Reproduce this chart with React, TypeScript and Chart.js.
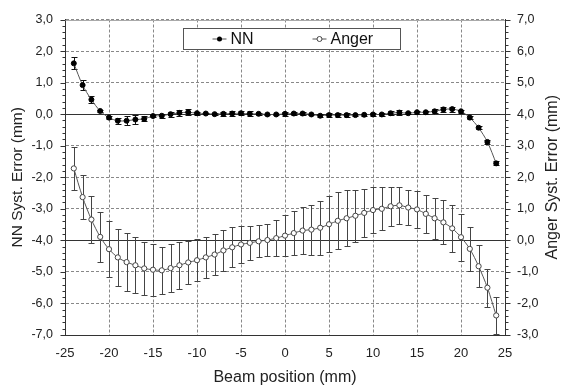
import React, { useEffect, useRef } from 'react';
import { Chart, registerables } from 'chart.js';

Chart.register(...registerables);

const positions = [-24, -23, -22, -21, -20, -19, -18, -17, -16, -15, -14, -13, -12, -11, -10, -9, -8, -7, -6, -5, -4, -3, -2, -1, 0, 1, 2, 3, 4, 5, 6, 7, 8, 9, 10, 11, 12, 13, 14, 15, 16, 17, 18, 19, 20, 21, 22, 23, 24];

const nnValues = [1.61, 0.92, 0.46, 0.10, -0.11, -0.21, -0.21, -0.17, -0.15, -0.06, -0.05, 0.00, 0.04, 0.06, 0.03, 0.02, 0.00, 0.01, 0.02, 0.03, 0.01, 0.01, -0.01, -0.01, 0.01, 0.02, 0.02, -0.01, -0.05, -0.03, -0.03, -0.03, -0.03, -0.02, -0.01, -0.01, 0.03, 0.05, 0.03, 0.06, 0.06, 0.09, 0.15, 0.16, 0.09, -0.11, -0.43, -0.88, -1.56];

const nnErrors = [0.19, 0.17, 0.10, 0.04, 0.05, 0.10, 0.14, 0.13, 0.08, 0.04, 0.06, 0.08, 0.10, 0.10, 0.05, 0.03, 0.04, 0.07, 0.07, 0.07, 0.08, 0.04, 0.03, 0.03, 0.07, 0.04, 0.04, 0.03, 0.04, 0.06, 0.07, 0.06, 0.04, 0.04, 0.05, 0.05, 0.07, 0.07, 0.04, 0.05, 0.04, 0.06, 0.09, 0.08, 0.05, 0.04, 0.05, 0.06, 0.06];

const angerValues = [2.28, 1.37, 0.66, 0.11, -0.28, -0.54, -0.69, -0.79, -0.89, -0.93, -0.95, -0.88, -0.79, -0.70, -0.63, -0.54, -0.45, -0.32, -0.22, -0.13, -0.08, -0.03, 0.01, 0.07, 0.15, 0.23, 0.31, 0.34, 0.40, 0.51, 0.62, 0.70, 0.78, 0.87, 0.96, 1.00, 1.08, 1.11, 1.04, 0.98, 0.84, 0.70, 0.57, 0.38, 0.10, -0.27, -0.82, -1.50, -2.38];

const angerErrors = [0.68, 0.69, 0.75, 0.80, 0.89, 0.91, 0.92, 0.89, 0.83, 0.82, 0.75, 0.75, 0.74, 0.69, 0.66, 0.64, 0.64, 0.64, 0.63, 0.58, 0.53, 0.51, 0.52, 0.57, 0.65, 0.69, 0.74, 0.79, 0.86, 0.89, 0.90, 0.89, 0.83, 0.77, 0.72, 0.68, 0.62, 0.58, 0.55, 0.58, 0.60, 0.65, 0.70, 0.74, 0.74, 0.70, 0.66, 0.60, 0.60];

const seriesNames = ['NN', 'Anger'];
const xTitle = 'Beam position (mm)';
const yTitle = 'NN Syst. Error (mm)';
const y2Title = 'Anger Syst. Error (mm)';
const xRange = [-25, 25];
const yRange = [-7, 3];
const y2Range = [-3, 7];

const FONT = "'Liberation Sans', Arial, sans-serif";

const fmt = (v: number) => Number(v).toFixed(1).replace('.', ',');

const errorBarPlugin = {
  id: 'errorBars',
  beforeDatasetsDraw(chart: any) {
    const ctx = chart.ctx;
    const xScale = chart.scales.x;
    chart.data.datasets.forEach((ds: any, i: number) => {
      const meta = chart.getDatasetMeta(i);
      const yScale = chart.scales[meta.yAxisID];
      ctx.save();
      ctx.strokeStyle = ds.errorColor;
      ctx.lineWidth = 1;
      ds.data.forEach((pt: any, j: number) => {
        const e = ds.errors[j];
        const x = Math.round(xScale.getPixelForValue(pt.x)) + 0.5;
        const yT = Math.round(yScale.getPixelForValue(pt.y + e)) + 0.5;
        const yB = Math.round(yScale.getPixelForValue(pt.y - e)) + 0.5;
        ctx.beginPath();
        ctx.moveTo(x, yT);
        ctx.lineTo(x, yB);
        ctx.moveTo(x - 3, yT);
        ctx.lineTo(x + 3, yT);
        ctx.moveTo(x - 3, yB);
        ctx.lineTo(x + 3, yB);
        ctx.stroke();
      });
      ctx.restore();
    });
  },
};

const framePlugin = {
  id: 'frame',
  beforeDatasetsDraw(chart: any) {
    const { ctx, chartArea: a, scales } = chart;
    ctx.save();
    ctx.strokeStyle = '#333';
    ctx.lineWidth = 1;
    const y0 = Math.round(scales.y.getPixelForValue(0)) + 0.5;
    const y20 = Math.round(scales.y2.getPixelForValue(0)) + 0.5;
    ctx.beginPath();
    ctx.moveTo(a.left, y0);
    ctx.lineTo(a.right, y0);
    ctx.moveTo(a.left, y20);
    ctx.lineTo(a.right, y20);
    ctx.stroke();
    ctx.strokeStyle = '#aaa';
    ctx.beginPath();
    ctx.moveTo(a.left, Math.round(a.top) + 0.5);
    ctx.lineTo(a.right, Math.round(a.top) + 0.5);
    ctx.stroke();
    ctx.strokeStyle = '#333';
    const drawTicks = (scale: any, side: number) => {
      const xEdge = side < 0 ? Math.round(a.left) + 0.5 : Math.round(a.right) + 0.5;
      for (let k = 0; k <= Math.round((scale.max - scale.min) * 5); k++) {
        const v = scale.min + k * 0.2;
        const y = Math.round(scale.getPixelForValue(v)) + 0.5;
        const len = k % 5 === 0 ? 5 : 3;
        ctx.beginPath();
        ctx.moveTo(xEdge, y);
        ctx.lineTo(xEdge + side * len, y);
        ctx.stroke();
      }
    };
    drawTicks(scales.y, -1);
    drawTicks(scales.y2, 1);
    ctx.restore();
  },
  afterDraw(chart: any) {
    const { ctx, chartArea: a } = chart;
    ctx.save();
    ctx.font = `16px ${FONT}`;
    ctx.fillStyle = '#222';
    ctx.textAlign = 'center';
    ctx.textBaseline = 'middle';
    ctx.translate(a.right + 48, (a.top + a.bottom) / 2);
    ctx.rotate(-Math.PI / 2);
    ctx.fillText(y2Title, 0, 0);
    ctx.restore();
  },
};

const legendPlugin = {
  id: 'boxLegend',
  afterDraw(chart: any) {
    const { ctx, chartArea: a } = chart;
    const left = Math.round(a.left + 118) + 0.5;
    const top = Math.round(a.top + 8) + 0.5;
    const w = 217;
    const h = 21;
    const mid = top + h / 2;
    ctx.save();
    ctx.fillStyle = '#fff';
    ctx.fillRect(left, top, w, h);
    ctx.strokeStyle = '#555';
    ctx.lineWidth = 1;
    ctx.strokeRect(left, top, w, h);
    ctx.font = `16px ${FONT}`;
    ctx.textBaseline = 'middle';
    ctx.strokeStyle = '#555';
    ctx.beginPath();
    ctx.moveTo(left + 29, mid);
    ctx.lineTo(left + 43, mid);
    ctx.stroke();
    ctx.beginPath();
    ctx.arc(left + 36, mid, 2.5, 0, Math.PI * 2);
    ctx.fillStyle = '#000';
    ctx.fill();
    ctx.fillStyle = '#111';
    ctx.fillText(seriesNames[0], left + 47, mid + 1);
    ctx.beginPath();
    ctx.moveTo(left + 129, mid);
    ctx.lineTo(left + 143, mid);
    ctx.stroke();
    ctx.beginPath();
    ctx.arc(left + 136, mid, 2.5, 0, Math.PI * 2);
    ctx.fillStyle = '#fff';
    ctx.fill();
    ctx.strokeStyle = '#444';
    ctx.stroke();
    ctx.fillStyle = '#111';
    ctx.fillText(seriesNames[1], left + 147, mid + 1);
    ctx.restore();
  },
};

export default function App() {
  const canvasRef = useRef<HTMLCanvasElement | null>(null);

  useEffect(() => {
    document.body.style.margin = '0';
    const canvas = canvasRef.current;
    if (!canvas) return;
    const chart = new Chart(canvas, {
      type: 'line',
      data: {
        datasets: [
          {
            label: seriesNames[0],
            data: positions.map((x, i) => ({ x, y: nnValues[i] })),
            errors: nnErrors,
            errorColor: '#111',
            yAxisID: 'y',
            borderColor: '#555',
            borderWidth: 1,
            tension: 0.3,
            pointRadius: 2.5,
            pointBackgroundColor: '#000',
            pointBorderColor: '#000',
            pointBorderWidth: 1,
          } as any,
          {
            label: seriesNames[1],
            data: positions.map((x, i) => ({ x, y: angerValues[i] })),
            errors: angerErrors,
            errorColor: '#444',
            yAxisID: 'y2',
            borderColor: '#555',
            borderWidth: 1,
            tension: 0.3,
            pointRadius: 2.6,
            pointBackgroundColor: '#fff',
            pointBorderColor: '#444',
            pointBorderWidth: 1,
          } as any,
        ],
      },
      options: {
        responsive: false,
        animation: false,
        layout: { padding: { top: 16, left: 0, right: 0, bottom: 0 } },
        plugins: { legend: { display: false }, tooltip: { enabled: false } },
        scales: {
          x: {
            type: 'linear',
            min: xRange[0],
            max: xRange[1],
            ticks: { stepSize: 5, font: { family: FONT, size: 13 }, color: '#222', padding: 11, maxRotation: 0 },
            grid: { color: '#888', drawTicks: false },
            border: { display: true, color: '#333', dash: [3, 2] },
            title: { display: true, text: xTitle, font: { family: FONT, size: 16 }, color: '#222', padding: { top: 0, bottom: 0 } },
            afterFit: (s: any) => { s.height = 52; },
          },
          y: {
            type: 'linear',
            position: 'left',
            min: yRange[0],
            max: yRange[1],
            ticks: { stepSize: 1, font: { family: FONT, size: 12.5 }, color: '#222', padding: 12, callback: (v: any) => fmt(v) },
            grid: { color: '#888', drawTicks: false },
            border: { display: true, color: '#333', dash: [3, 2] },
            title: { display: true, text: yTitle, font: { family: FONT, size: 15.5 }, color: '#222', padding: { top: 8, bottom: 0 } },
            afterFit: (s: any) => { s.width = 65; },
          },
          y2: {
            type: 'linear',
            position: 'right',
            min: y2Range[0],
            max: y2Range[1],
            ticks: { stepSize: 1, font: { family: FONT, size: 12.5 }, color: '#222', padding: 12, callback: (v: any) => fmt(v) },
            grid: { display: false, drawTicks: false },
            border: { display: true, color: '#333' },
            title: { display: false },
            afterFit: (s: any) => { s.width = 59; },
          },
        },
      } as any,
      plugins: [framePlugin, errorBarPlugin, legendPlugin],
    });
    return () => chart.destroy();
  }, []);

  return (
    <div style={{ width: 564, height: 387, background: '#fff' }}>
      <canvas ref={canvasRef} width={564} height={387} style={{ display: 'block' }} />
    </div>
  );
}
